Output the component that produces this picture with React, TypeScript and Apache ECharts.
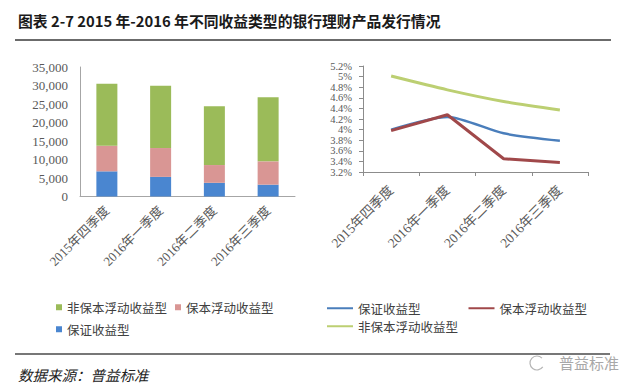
import React, { useEffect, useRef } from "react";
import * as echarts from "echarts";

const categories = ["2015年四季度", "2016年一季度", "2016年二季度", "2016年三季度"];
const seriesNames = ["保证收益型", "保本浮动收益型", "非保本浮动收益型"];
// Issuance volume (stacked bars)
const guaranteedVolume = [6800, 5300, 3700, 3200];
const principalFloatVolume = [6900, 7800, 4800, 6300];
const nonPrincipalFloatVolume = [16800, 16800, 15900, 17300];
// Expected yield (%) lines
const guaranteedYield = [4.0, 4.24, 3.93, 3.79];
const principalFloatYield = [3.98, 4.28, 3.45, 3.38];
const nonPrincipalFloatYield = [5.01, 4.75, 4.53, 4.37];

const titleText = "图表 2-7 2015 年-2016 年不同收益类型的银行理财产品发行情况";
const sourceText = "数据来源：普益标准";
const watermarkText = "普益标准";

const barColors = ["#4a86d0", "#d99694", "#9bbb59"];
const lineColors = ["#4a7ebb", "#a0484a", "#bccf72"];

const CJK = '"Noto Sans CJK SC", sans-serif';
const SERIF = '"Liberation Serif", "Noto Sans CJK SC", serif';

export default function App() {
  const ref = useRef<HTMLDivElement>(null);
  useEffect(() => {
    if (!ref.current) return;
    const chart = echarts.init(ref.current, null, { renderer: "svg" });
    const axisLabelStyle = { color: "#595959", fontFamily: SERIF, fontSize: 13 };
    const option: any = {
      animation: false,
      backgroundColor: "#ffffff",
      grid: [
        { left: 80, top: 67, width: 215, height: 129.5 },
        { left: 363, top: 66, width: 225, height: 106 },
      ],
      xAxis: [
        {
          gridIndex: 0,
          type: "category",
          data: categories,
          axisLine: { lineStyle: { color: "#a6a6a6", width: 1 } },
          axisTick: { show: false },
          axisLabel: { ...axisLabelStyle, rotate: 45, margin: 12, interval: 0 },
        },
        {
          gridIndex: 1,
          type: "category",
          data: categories,
          axisLine: { lineStyle: { color: "#8c8c8c", width: 1 } },
          axisTick: { show: true, length: 4, lineStyle: { color: "#8c8c8c" } },
          axisLabel: { ...axisLabelStyle, fontSize: 13.5, rotate: 45, margin: 16, interval: 0 },
        },
      ],
      yAxis: [
        {
          gridIndex: 0,
          type: "value",
          min: 0,
          max: 35000,
          interval: 5000,
          splitLine: { show: false },
          axisLine: { show: true, lineStyle: { color: "#a6a6a6", width: 1 } },
          axisTick: { show: false },
          axisLabel: {
            ...axisLabelStyle,
            margin: 12,
            formatter: (v: number) => v.toLocaleString("en-US"),
          },
        },
        {
          gridIndex: 1,
          type: "value",
          min: 3.2,
          max: 5.2,
          interval: 0.2,
          splitLine: { show: false },
          axisLine: { show: true, lineStyle: { color: "#8c8c8c", width: 1 } },
          axisTick: { show: true, length: 4, lineStyle: { color: "#8c8c8c" } },
          axisLabel: {
            ...axisLabelStyle,
            fontSize: 10.5,
            lineHeight: 10,
            margin: 11,
            showMinLabel: true,
            showMaxLabel: true,
            hideOverlap: false,
            formatter: (v: number) => `${parseFloat(v.toFixed(1))}%`,
          },
        },
      ],
      legend: [
        {
          left: 51,
          top: 296,
          icon: "rect",
          itemWidth: 6,
          itemHeight: 6,
          itemGap: 8,
          selectedMode: false,
          textStyle: { color: "#404040", fontFamily: CJK, fontSize: 12.5 },
          data: [
            { name: seriesNames[2], itemStyle: { color: barColors[2] } },
            { name: seriesNames[1], itemStyle: { color: barColors[1] } },
          ],
        },
        {
          left: 51,
          top: 318,
          icon: "rect",
          itemWidth: 6,
          itemHeight: 6,
          selectedMode: false,
          textStyle: { color: "#404040", fontFamily: CJK, fontSize: 12.5 },
          data: [{ name: seriesNames[0], itemStyle: { color: barColors[0] } }],
        },
        {
          left: 322,
          top: 297,
          icon: "rect",
          itemWidth: 26,
          itemHeight: 2,
          itemGap: 48,
          selectedMode: false,
          textStyle: { color: "#404040", fontFamily: CJK, fontSize: 12.5 },
          data: [
            { name: seriesNames[0], itemStyle: { color: lineColors[0] } },
            { name: seriesNames[1], itemStyle: { color: lineColors[1] } },
          ],
        },
        {
          left: 322,
          top: 315,
          icon: "rect",
          itemWidth: 26,
          itemHeight: 2,
          selectedMode: false,
          textStyle: { color: "#404040", fontFamily: CJK, fontSize: 12.5 },
          data: [{ name: seriesNames[2], itemStyle: { color: lineColors[2] } }],
        },
      ],
      series: [
        {
          name: seriesNames[0],
          type: "bar",
          stack: "vol",
          xAxisIndex: 0,
          yAxisIndex: 0,
          barWidth: 21,
          data: guaranteedVolume,
          itemStyle: { color: barColors[0] },
        },
        {
          name: seriesNames[1],
          type: "bar",
          stack: "vol",
          xAxisIndex: 0,
          yAxisIndex: 0,
          barWidth: 21,
          data: principalFloatVolume,
          itemStyle: { color: barColors[1] },
        },
        {
          name: seriesNames[2],
          type: "bar",
          stack: "vol",
          xAxisIndex: 0,
          yAxisIndex: 0,
          barWidth: 21,
          data: nonPrincipalFloatVolume,
          itemStyle: { color: barColors[2] },
        },
        {
          name: seriesNames[0],
          type: "line",
          xAxisIndex: 1,
          yAxisIndex: 1,
          symbol: "none",
          smooth: 0.25,
          data: guaranteedYield,
          lineStyle: { color: lineColors[0], width: 2.5 },
          itemStyle: { color: lineColors[0] },
        },
        {
          name: seriesNames[1],
          type: "line",
          xAxisIndex: 1,
          yAxisIndex: 1,
          symbol: "none",
          data: principalFloatYield,
          lineStyle: { color: lineColors[1], width: 3 },
          itemStyle: { color: lineColors[1] },
        },
        {
          name: seriesNames[2],
          type: "line",
          xAxisIndex: 1,
          yAxisIndex: 1,
          symbol: "none",
          smooth: 0.25,
          data: nonPrincipalFloatYield,
          lineStyle: { color: lineColors[2], width: 3 },
          itemStyle: { color: lineColors[2] },
        },
      ],
      graphic: [
        {
          type: "text",
          x: 18,
          y: 20.5,
          style: {
            text: titleText,
            font: `bold 14.8px ${CJK}`,
            fill: "#1a1a1a",
            verticalAlign: "middle",
          },
        },
        {
          type: "line",
          shape: { x1: 15, y1: 40, x2: 611, y2: 40 },
          style: { stroke: "#3a3a3a", lineWidth: 1.5 },
        },
        {
          type: "line",
          shape: { x1: 15, y1: 354, x2: 610, y2: 354 },
          style: { stroke: "#4a4a4a", lineWidth: 1.5 },
        },
        {
          type: "text",
          x: 18,
          y: 374,
          style: {
            text: sourceText,
            font: `italic 14.5px ${CJK}`,
            fill: "#222222",
            verticalAlign: "middle",
          },
        },
        {
          type: "arc",
          shape: { cx: 537, cy: 363, r: 7, startAngle: 0.6, endAngle: 5.5 },
          style: { stroke: "#b5b5b5", lineWidth: 1.2, fill: null },
        },
        {
          type: "text",
          x: 559,
          y: 362,
          style: {
            text: watermarkText,
            font: `15px ${CJK}`,
            fill: "#a8a8a8",
            verticalAlign: "middle",
          },
        },
      ],
    };
    chart.setOption(option);
    return () => chart.dispose();
  }, []);
  return (
    <div
      ref={ref}
      style={{ position: "absolute", left: 0, top: 0, width: 640, height: 390, background: "#fff" }}
    />
  );
}
